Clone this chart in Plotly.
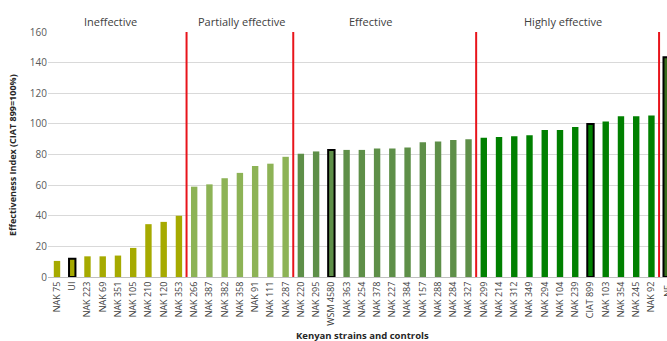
import plotly.graph_objects as go

categories = ["NAK 75", "UI", "NAK 223", "NAK 69", "NAK 351", "NAK 105", "NAK 210", "NAK 120", "NAK 353",
              "NAK 266", "NAK 387", "NAK 382", "NAK 358", "NAK 91", "NAK 111", "NAK 287",
              "NAK 220", "NAK 295", "WSM 4580", "NAK 363", "NAK 254", "NAK 378", "NAK 227", "NAK 384",
              "NAK 157", "NAK 288", "NAK 284", "NAK 327",
              "NAK 299", "NAK 214", "NAK 312", "NAK 349", "NAK 294", "NAK 104", "NAK 239", "CIAT 899",
              "NAK 103", "NAK 354", "NAK 245", "NAK 92", "NF"]
values = [10.5, 12, 13.5, 13.5, 14, 19, 34.5, 36, 40,
          59, 60.5, 64.5, 68, 72.5, 74, 78.5,
          80.5, 82, 83, 83, 83, 84, 84, 84.5, 88, 88.5, 89.5, 90,
          91, 91.5, 92, 92.5, 96, 96, 98, 100, 101.5, 105, 105, 105.5, 143.5]
groups = ["Ineffective"] * 9 + ["Partially effective"] * 7 + ["Effective"] * 12 + ["Highly effective"] * 12 + ["NF"]
controls = ["UI", "WSM 4580", "CIAT 899", "NF"]
group_names = ["Ineffective", "Partially effective", "Effective", "Highly effective"]
group_colors = {"Ineffective": "#A6AA00", "Partially effective": "#8DB356",
                "Effective": "#5E8F48", "Highly effective": "#008000", "NF": "#3A6E1E"}
label_pos = [3.5, 12.1, 20.6, 33.2]

colors = [group_colors[g] for g in groups]
line_w = [2 if c in controls else 0 for c in categories]

W, H = 667, 341
L, R, T, B = 48, 0, 32, 64
pw, ph = W - L - R, H - T - B

fig = go.Figure()
fig.add_trace(go.Bar(
    x=list(range(len(categories))), y=values,
    marker=dict(color=colors, line=dict(color="black", width=line_w)),
    width=0.42,
))

# red separators between groups
idx = 0
for g in group_names:
    idx += groups.count(g)
    b = idx - 0.5
    fig.add_shape(type="line", x0=b, x1=b, y0=0, y1=162, xref="x", yref="y",
                  line=dict(color="#E8141B", width=2), layer="above")

for name, px in zip(group_names, label_pos):
    fig.add_annotation(x=px, y=(H - B - 22) / ph, xref="x", yref="paper", text=name, showarrow=False,
                       font=dict(size=11, color="#404040"), yanchor="middle")

# last category label (cut by the right edge, as in the source image)
fig.add_annotation(x=len(categories) - 1, y=-6 / ph, xref="x", yref="paper", text=categories[-1],
                   showarrow=False, textangle=-90, yanchor="top", xanchor="center",
                   font=dict(size=9, color="#404040"))

fig.add_annotation(x=(12 - L) / pw, y=(H - B - 155) / ph, xref="paper", yref="paper",
                   xanchor="center", yanchor="middle",
                   text="<b>Effectiveness Index (CIAT 899=100%)</b>", showarrow=False, textangle=-90,
                   font=dict(size=9, color="#262626"))
fig.add_annotation(x=(362 - L) / pw, y=(H - B - 335) / ph, xref="paper", yref="paper",
                   text="<b>Kenyan strains and controls</b>", showarrow=False,
                   font=dict(size=9.5, color="#262626"), xanchor="center", yanchor="middle")

fig.update_layout(
    width=W, height=H, margin=dict(l=L, r=R, t=T, b=B, autoexpand=False),
    plot_bgcolor="white", paper_bgcolor="white",
    showlegend=False,
    font=dict(family="Open Sans, Liberation Sans, sans-serif", color="#404040"),
    xaxis=dict(range=[-0.59, 40.02], tickmode="array", tickvals=list(range(len(categories) - 1)),
               ticktext=categories[:-1], tickangle=-90, tickfont=dict(size=9, color="#404040"),
               showgrid=False, showline=True, linecolor="#BFBFBF", linewidth=1, ticks="",
               zeroline=False, automargin=False),
    yaxis=dict(range=[0, 160], dtick=20, showgrid=True, gridcolor="#D9D9D9", gridwidth=1,
               tickfont=dict(size=10, color="#595959"), zeroline=False, showline=False,
               ticks="", ticklen=0, automargin=False),
)

fig.write_html("out.html", config={"displayModeBar": False},
               post_script="document.body.style.margin='0';document.body.style.overflow='hidden';")
